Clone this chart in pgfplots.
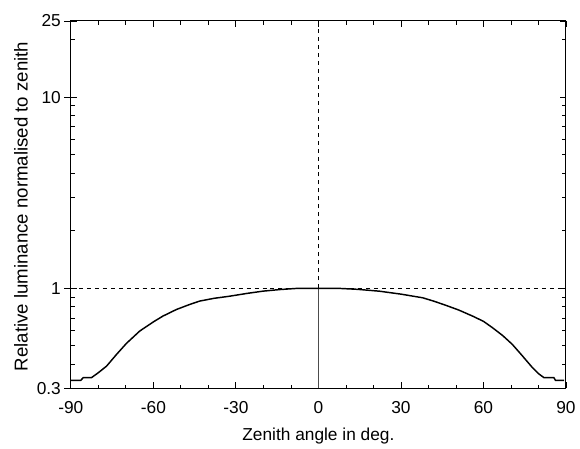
\documentclass[border=0pt]{standalone}
\usepackage{fontspec}
\setmainfont{Liberation Sans}
\usepackage{pgfplots}
\pgfplotsset{compat=1.18}
\begin{document}
\begin{tikzpicture}
\begin{axis}[
  name=ax,
  scale only axis,
  width=372pt, height=276pt,
  xmin=-90, xmax=90,
  ymode=log, ymin=0.3, ymax=25,
  xtick={-90,-60,-30,0,30,60,90},
  minor xtick={-80,-70,-50,-40,-20,-10,10,20,40,50,70,80},
  ytick={0.3,1,10,25},
  yticklabels={0.3,1,10,25},
  minor ytick={0.4,0.5,0.6,0.7,0.8,0.9,2,3,4,5,6,7,8,9,20},
  extra y ticks={0.3,1,10,25},
  extra y tick labels={},
  extra y tick style={tick align=outside, ytick pos=left, major tick length=5pt},
  tick align=inside,
  major tick length=4.5pt, minor tick length=2.8pt,
  tick style={black, line width=0.6pt},
  axis line style={line width=0.8pt},
  /pgf/number format/assume math mode=true,
  ticklabel style={font=\fontsize{13}{15}\selectfont},
  label style={font=\fontsize{13}{15}\selectfont},
  xlabel={Zenith angle in deg.},
  ylabel={Relative luminance normalised to zenith},
  xlabel style={at={(axis description cs:0.5,-0.1304)}, anchor=center},
  ylabel style={at={(axis description cs:-0.1008,0.495)}, anchor=center, rotate=0, font=\fontsize{14}{16}\selectfont},
  xticklabel style={anchor=center, yshift=-14.25pt},
  yticklabel style={anchor=east, xshift=-4pt},
]
\addplot[black, dashed, line width=0.6pt, forget plot] coordinates {(-90,1) (90,1)};
\addplot[black, dashed, line width=0.6pt, forget plot] coordinates {(0,1) (0,25)};
\addplot[black!70, line width=0.8pt, forget plot] coordinates {(0,0.3) (0,1)};
\addplot[black, line width=1.1pt] coordinates {
(-90,0.330) (-86.4,0.330) (-85.5,0.341) (-82.5,0.341) (-80,0.362) (-77,0.392)
(-73.4,0.451) (-69.8,0.515) (-65,0.597) (-60.1,0.666) (-56.5,0.716)
(-51.6,0.775) (-46.8,0.823) (-43.2,0.857) (-38,0.886) (-32.3,0.909)
(-26,0.940) (-20.2,0.966) (-14,0.985) (-8.1,0.998) (0,1.0)
(8,0.998) (14,0.988) (22.1,0.966) (30,0.932) (37.9,0.892) (42,0.856)
(46.4,0.814) (51,0.770) (56.0,0.716) (60,0.672) (63.3,0.622) (67,0.566)
(70.5,0.509) (74,0.446) (77.8,0.385) (80,0.358) (82.0,0.341) (85.6,0.341)
(86.2,0.330) (89.3,0.330)
};
\end{axis}
\path ([xshift=-53.25pt,yshift=-45pt]ax.south west) rectangle ([xshift=9.75pt,yshift=15.75pt]ax.north east);
\end{tikzpicture}
\end{document}
